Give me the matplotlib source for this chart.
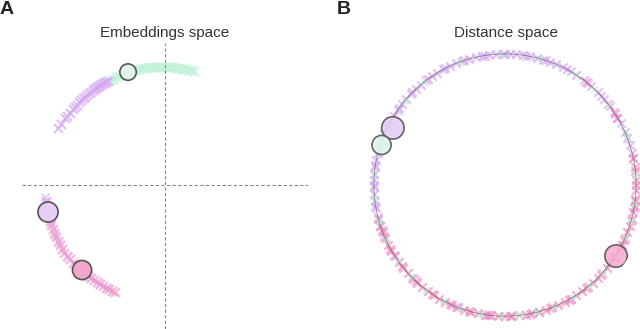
import numpy as np
import matplotlib
matplotlib.use('Agg')
import matplotlib.pyplot as plt

plt.rcParams['font.family'] = ['Liberation Sans', 'DejaVu Sans']

# colours
GREEN = '#bff2d6'
PURPLE = '#d6a8f2'
PINK = '#f28cc0'
EDGE = '#555555'

########################
#  A: embeddings space #
########################
purple_top_x = [-1.07, -1.04, -1.00, -0.98, -0.95, -0.92, -0.90, -0.88, -0.86, -0.84, -0.82, -0.80, -0.78,
                -0.76, -0.74, -0.72, -0.71, -0.69, -0.68, -0.66, -0.65, -0.63, -0.62, -0.60, -0.59, -0.57]
purple_top_y = [0.57, 0.61, 0.67, 0.69, 0.72, 0.76, 0.78, 0.80, 0.83, 0.85, 0.87, 0.885, 0.90,
                0.92, 0.935, 0.95, 0.957, 0.97, 0.978, 0.99, 0.998, 1.012, 1.02, 1.028, 1.033, 1.043]
green_top_x = [-0.55, -0.52, -0.49, -0.46, -0.43, -0.40, -0.37, -0.34, -0.31, -0.28, -0.25, -0.22, -0.19, -0.16,
               -0.13, -0.10, -0.07, -0.04, -0.01, 0.02, 0.05, 0.08, 0.11, 0.14, 0.17, 0.20, 0.23, 0.26, 0.29]
green_top_y = [1.05, 1.065, 1.08, 1.095, 1.11, 1.12, 1.13, 1.14, 1.15, 1.155, 1.16, 1.17, 1.175, 1.18,
               1.18, 1.185, 1.185, 1.185, 1.185, 1.185, 1.18, 1.18, 1.175, 1.17, 1.165, 1.16, 1.155, 1.15, 1.145]
pink_bot_x = [-1.19, -1.18, -1.17, -1.16, -1.15, -1.14, -1.12, -1.11, -1.09, -1.07, -1.05, -1.03, -1.01, -0.98, -0.95,
              -0.92, -0.89, -0.86, -0.83, -0.80, -0.77, -0.74, -0.71, -0.68, -0.65, -0.62, -0.59, -0.56, -0.53, -0.50]
pink_bot_y = [-0.17, -0.22, -0.28, -0.32, -0.36, -0.40, -0.44, -0.48, -0.52, -0.56, -0.60, -0.64, -0.68, -0.71, -0.74,
              -0.78, -0.80, -0.83, -0.85, -0.88, -0.91, -0.93, -0.95, -0.97, -0.99, -1.01, -1.03, -1.04, -1.06, -1.07]
purple_bot_x = [-1.20, -1.19, -1.18, -1.17, -1.16, -1.14, -1.10, -1.06, -0.97, -0.88, -0.75, -0.66, -0.58]
purple_bot_y = [-0.12, -0.15, -0.20, -0.25, -0.30, -0.38, -0.50, -0.58, -0.72, -0.81, -0.92, -0.98, -1.03]

# highlighted samples
emb_big_x = [-0.37, -1.17, -0.83]
emb_big_y = [1.13, -0.27, -0.85]
emb_big_s = [140, 210, 190]
emb_big_c = ['#dcf6e8', '#e6cdf5', '#f3a6cc']

######################
#  B: distance space #
######################
ring_r = 1.0
purple_ang = [12, 18, 24, 28, 33, 37, 41, 45, 49, 53, 57, 60, 64, 67, 70, 73, 76, 79, 82, 85, 88, 91, 94, 97,
              100, 103, 106, 109, 112, 115, 118, 121, 124, 127, 130, 133, 136, 139, 142, 145, 148, 151, 154,
              157, 160, 163, 166, 169, 172, 175, 178, 181, 184, 187, 190, 194, 198, 203, 212, 226, 248, 262,
              285, 300, 333, 350, 14, 21, 31, 43, 51, 62, 72, 81, 90, 99, 108, 117, 126, 135, 144, 153, 162,
              171, 180, 189]
pink_ang = [195, 198, 201, 204, 207, 210, 213, 216, 219, 222, 225, 228, 231, 234, 237, 240, 243, 246, 249, 252,
            255, 258, 261, 264, 267, 270, 273, 276, 279, 282, 285, 288, 291, 294, 297, 300, 303, 306, 309, 312,
            315, 318, 321, 324, 327, 330, 333, 336, 339, 342, 345, 348, 351, 354, 358, 2, 6, 12, 31, 34, 38, 52,
            200, 209, 218, 227, 236, 245, 254, 263, 272, 281, 290, 299, 308, 317, 326, 335, 344, 353, 0, 8]
green_ang = [5, 22, 38, 47, 58, 75, 92, 110, 128, 140, 152, 165, 176, 186, 196, 205, 215, 224, 233, 242, 250,
             259, 268, 276, 284, 292, 301, 310, 318, 327, 336, 344, 352]

dist_big_ang = [153, 162, 327.4]
dist_big_r = [0.96, 0.99, 1.005]
dist_big_s = [260, 190, 260]
dist_big_c = ['#e6cdf5', '#dcf6e8', '#f6aed0']

fig = plt.figure(figsize=(6.4, 3.29), dpi=100)

# panel A
ax1 = fig.add_axes([0.0344, 0.0, 0.447, 0.869])
ax1.axvline(0, color='#888888', lw=0.8, ls=(0, (3, 2)))
ax1.axhline(0, color='#888888', lw=0.8, ls=(0, (3, 2)))
ax1.scatter(green_top_x, green_top_y, marker='x', s=42, lw=1.6, color=GREEN, alpha=0.8)
ax1.scatter(purple_top_x, purple_top_y, marker='x', s=42, lw=1.6, color=PURPLE, alpha=0.7)
ax1.scatter(pink_bot_x, pink_bot_y, marker='x', s=42, lw=1.6, color=PINK, alpha=0.6)
ax1.scatter(purple_bot_x, purple_bot_y, marker='x', s=36, lw=1.4, color=PURPLE, alpha=0.5)
ax1.scatter(emb_big_x, emb_big_y, s=emb_big_s, c=emb_big_c, edgecolors=EDGE, linewidths=1.2, zorder=5)
ax1.set_xlim(-1.43, 1.43)
ax1.set_ylim(-1.44, 1.42)
ax1.axis('off')

# panel B
ax2 = fig.add_axes([0.5656, 0.003, 0.447, 0.869], projection='polar')
ax2.set_rlim(0, 1.09)
ax2.set_yticks([ring_r])
ax2.set_yticklabels([])
ax2.set_xticks([])
ax2.spines['polar'].set_visible(False)
ax2.set_axisbelow(False)
ax2.grid(True, color='#666666', lw=0.6, alpha=0.8)
ax2.scatter(np.deg2rad(purple_ang), np.full(len(purple_ang), ring_r), marker='x', s=36, lw=1.5,
            color=PURPLE, alpha=0.7, zorder=2)
ax2.scatter(np.deg2rad(pink_ang), np.full(len(pink_ang), ring_r), marker='x', s=36, lw=1.5,
            color=PINK, alpha=0.7, zorder=2)
ax2.scatter(np.deg2rad(green_ang), np.full(len(green_ang), ring_r), marker='x', s=22, lw=1.0,
            color=GREEN, alpha=0.9, zorder=2)
ax2.scatter(np.deg2rad(dist_big_ang), dist_big_r, s=dist_big_s, c=dist_big_c, edgecolors=EDGE,
            linewidths=1.2, alpha=0.9, zorder=5)

# titles and panel letters
fig.text(165 / 640, 1 - 33 / 329, 'Embeddings space', ha='center', va='center', fontsize=11, color='#333333')
fig.text(506 / 640, 1 - 33 / 329, 'Distance space', ha='center', va='center', fontsize=11, color='#333333')
fig.text(0.0, 1 - 9 / 329, 'A', ha='left', va='center', fontsize=14, fontweight='bold', color='#222222')
fig.text(337 / 640, 1 - 9 / 329, 'B', ha='left', va='center', fontsize=14, fontweight='bold', color='#222222')

plt.savefig('out.png', dpi=100)
